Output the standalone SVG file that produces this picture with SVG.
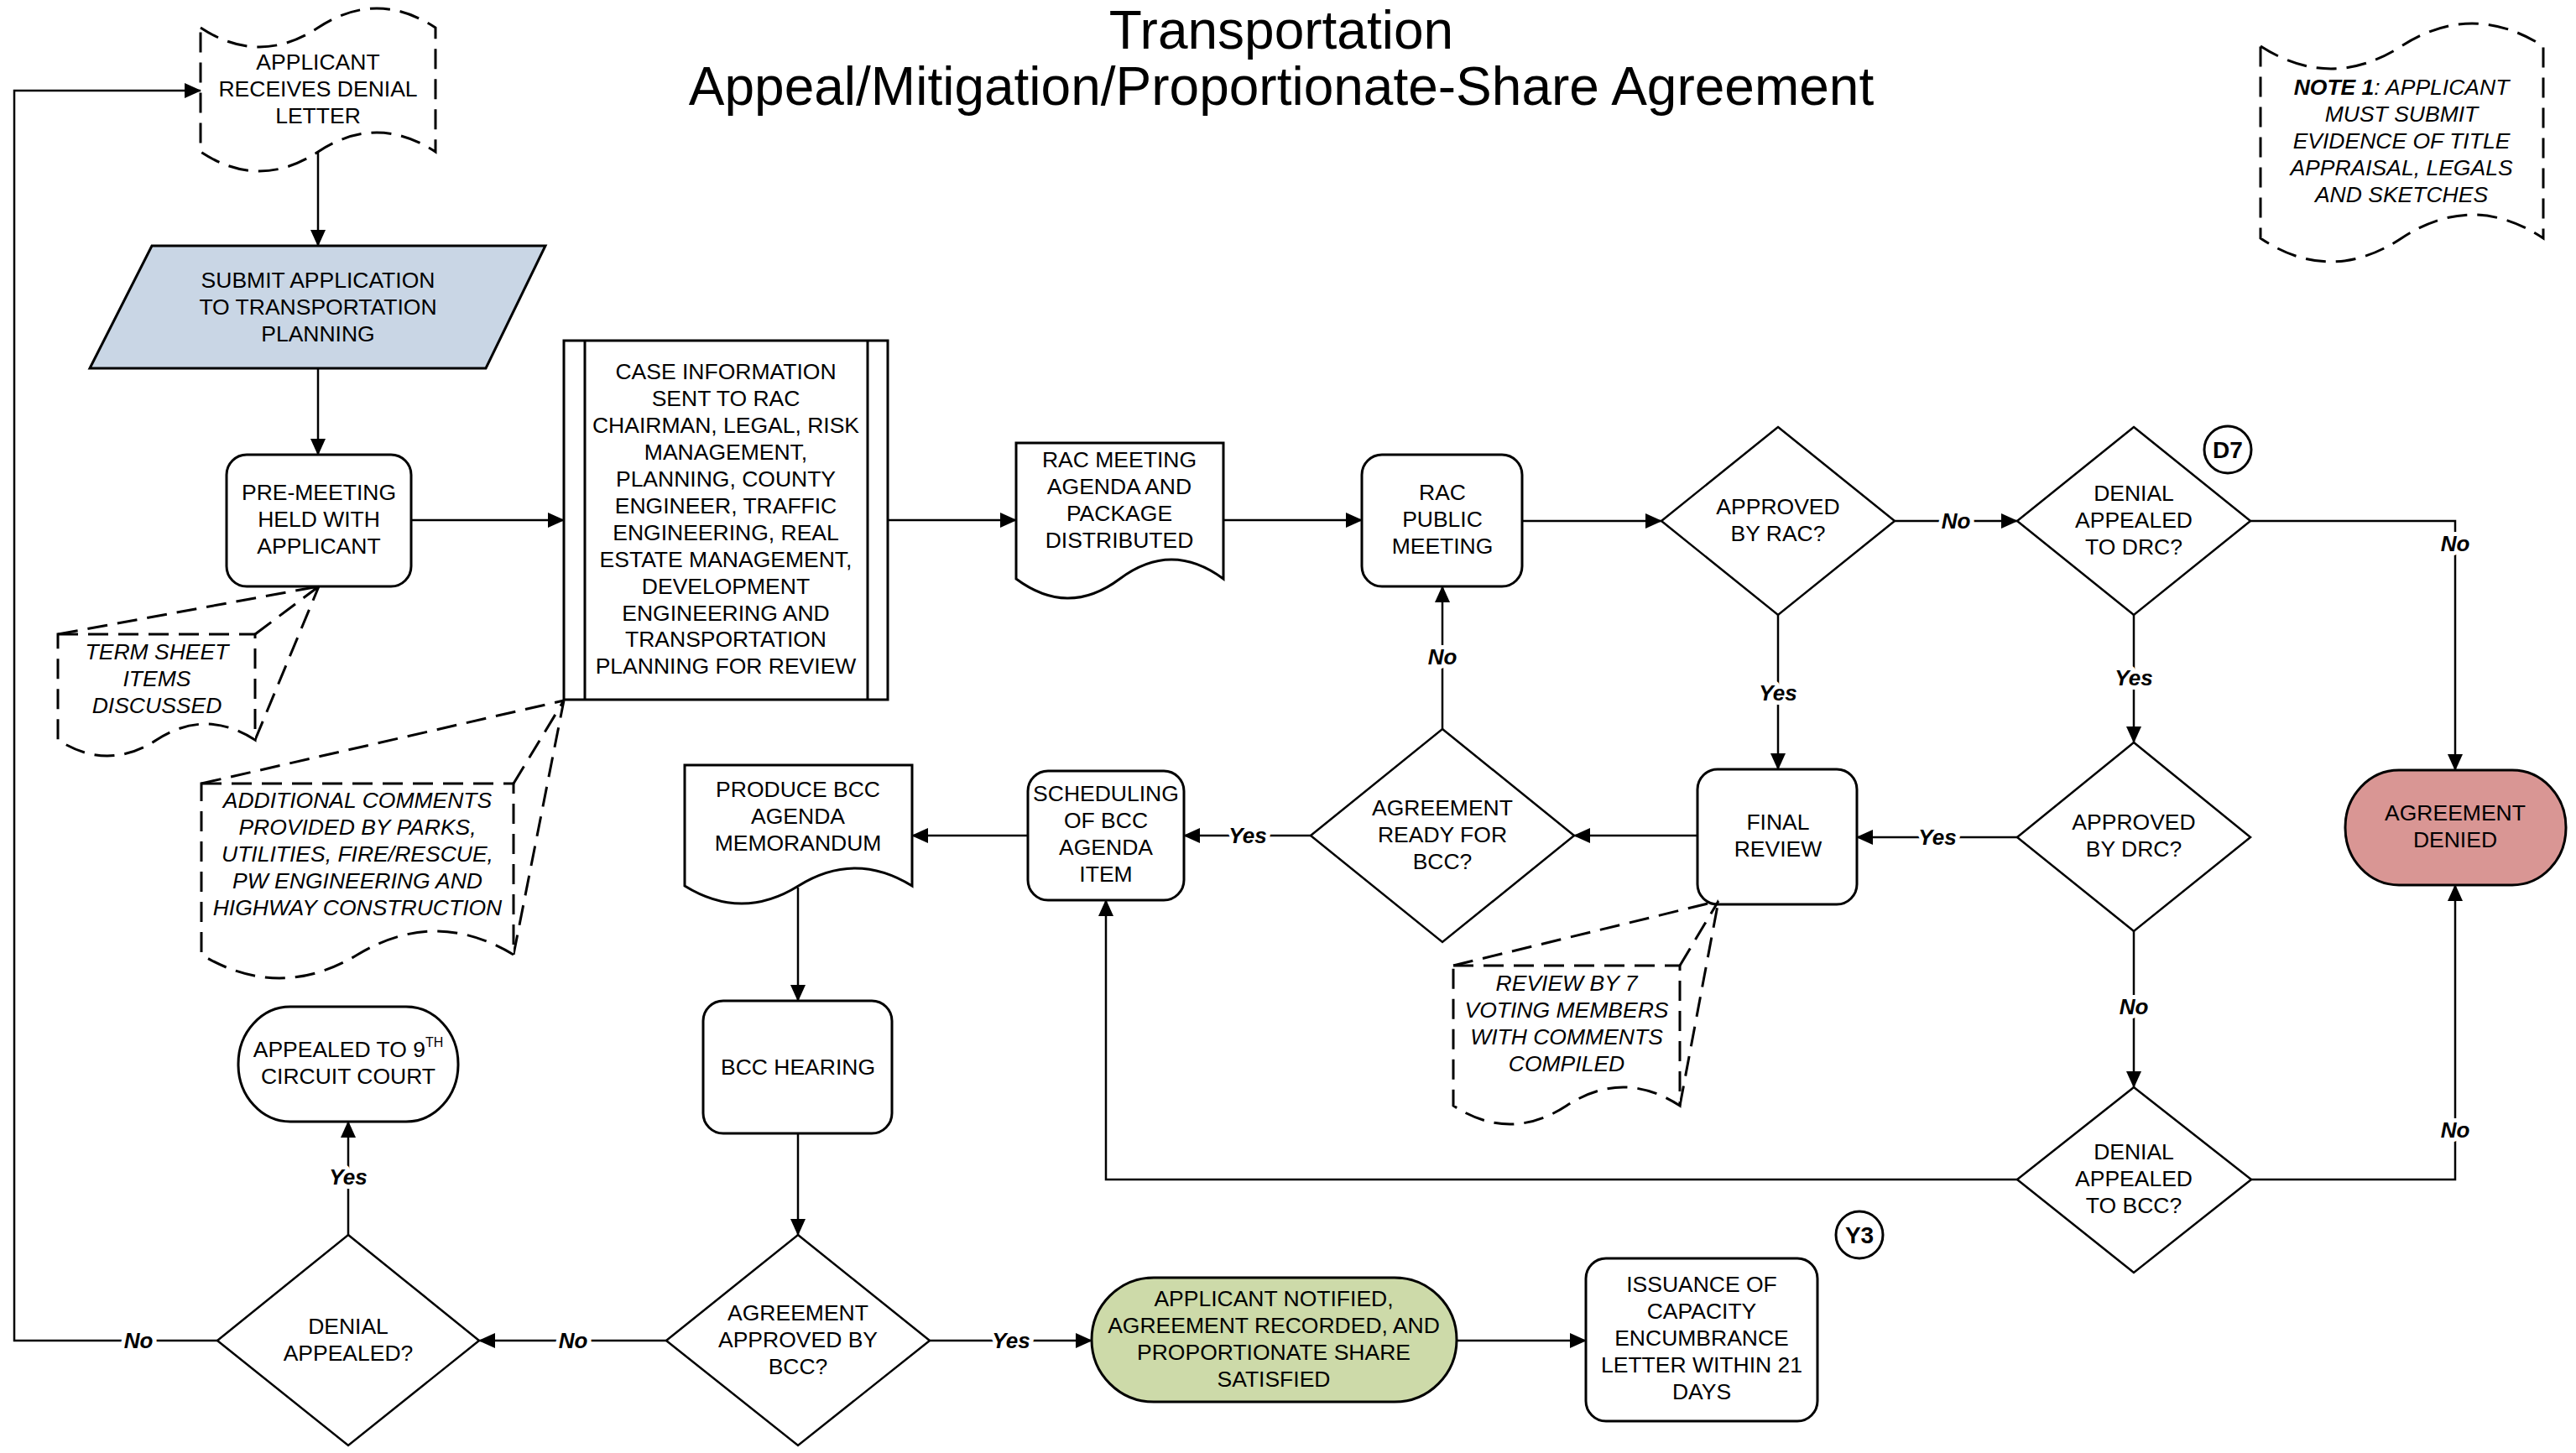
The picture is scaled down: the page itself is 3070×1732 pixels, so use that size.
<svg xmlns="http://www.w3.org/2000/svg" width="3070" height="1732" viewBox="0 0 3070 1732">
<defs>
<marker id="ah" markerWidth="20" markerHeight="18" refX="19" refY="9" orient="auto" markerUnits="userSpaceOnUse"><path d="M0,0 L20,9 L0,18 z" fill="#000"/></marker>
<style>
.s{fill:#fff;stroke:#000;stroke-width:3}
.d{fill:#fff;stroke:#000;stroke-width:2.5}
.dash{fill:#fff;stroke:#000;stroke-width:3;stroke-dasharray:24 12}
.dl{fill:none;stroke:#000;stroke-width:3;stroke-dasharray:24 12}
.c{fill:none;stroke:#000;stroke-width:2.5;marker-end:url(#ah)}
.t{font-family:"Liberation Sans",Arial,sans-serif;font-size:26.5px;text-anchor:middle;fill:#000}
.i{font-style:italic}
.lbl{font-family:"Liberation Sans",Arial,sans-serif;font-size:26px;font-weight:bold;font-style:italic;text-anchor:middle;fill:#000;stroke:#fff;stroke-width:10px;paint-order:stroke;stroke-linejoin:round}
.title{font-family:"Liberation Sans",Arial,sans-serif;font-size:64px;text-anchor:middle;fill:#000}
.tag{font-family:"Liberation Sans",Arial,sans-serif;font-size:28px;font-weight:bold;text-anchor:middle;fill:#000}
</style>
</defs>
<rect width="3070" height="1732" fill="#fff"/>

<g id="title">
<text class="title" x="1527" y="58">Transportation</text>
<text class="title" x="1527" y="125">Appeal/Mitigation/Proportionate-Share Agreement</text>
</g>

<g id="applicant-receives-denial">
<path class="dash" d="M239,33 Q309,79 379,33 T519,33 V181 Q449,135 379,181 T239,181 Z"/>
<text class="t" x="379" y="83">APPLICANT</text>
<text class="t" x="379" y="115">RECEIVES DENIAL</text>
<text class="t" x="379" y="147">LETTER</text>
</g>

<g id="submit-application">
<path d="M181,293 H650 L579,439 H107 Z" fill="#c9d6e5" stroke="#000" stroke-width="3"/>
<text class="t" x="379" y="343">SUBMIT APPLICATION</text>
<text class="t" x="379" y="375">TO TRANSPORTATION</text>
<text class="t" x="379" y="407">PLANNING</text>
</g>

<g id="pre-meeting">
<rect class="s" x="270" y="542" width="220" height="157" rx="24"/>
<text class="t" x="380" y="596">PRE-MEETING</text>
<text class="t" x="380" y="628">HELD WITH</text>
<text class="t" x="380" y="660">APPLICANT</text>
</g>

<g id="term-sheet-note">
<path class="dl" d="M69,756 L380,699 M304,756 L380,699 M304,882 L380,699"/>
<path class="dash" d="M69,756 H304 V882 Q245,844 186.5,882 T69,882 Z"/>
<text class="t i" x="187" y="786">TERM SHEET</text>
<text class="t i" x="187" y="818">ITEMS</text>
<text class="t i" x="187" y="850">DISCUSSED</text>
</g>

<g id="case-information">
<rect class="s" x="672" y="406" width="386" height="428"/>
<line x1="697" y1="406" x2="697" y2="834" stroke="#000" stroke-width="3"/>
<line x1="1034" y1="406" x2="1034" y2="834" stroke="#000" stroke-width="3"/>
<text class="t" x="865" y="452">CASE INFORMATION</text>
<text class="t" x="865" y="484">SENT TO RAC</text>
<text class="t" x="865" y="516">CHAIRMAN, LEGAL, RISK</text>
<text class="t" x="865" y="548">MANAGEMENT,</text>
<text class="t" x="865" y="580">PLANNING, COUNTY</text>
<text class="t" x="865" y="612">ENGINEER, TRAFFIC</text>
<text class="t" x="865" y="644">ENGINEERING, REAL</text>
<text class="t" x="865" y="676">ESTATE MANAGEMENT,</text>
<text class="t" x="865" y="708">DEVELOPMENT</text>
<text class="t" x="865" y="740">ENGINEERING AND</text>
<text class="t" x="865" y="771">TRANSPORTATION</text>
<text class="t" x="865" y="803">PLANNING FOR REVIEW</text>
</g>

<g id="additional-comments-note">
<path class="dl" d="M240,934 L672,835 M612,934 L672,835 M612,1138 L672,835"/>
<path class="dash" d="M240,934 H612 V1138 Q519,1082 426,1138 T240,1138 Z"/>
<text class="t i" x="426" y="963">ADDITIONAL COMMENTS</text>
<text class="t i" x="426" y="995">PROVIDED BY PARKS,</text>
<text class="t i" x="426" y="1027">UTILITIES, FIRE/RESCUE,</text>
<text class="t i" x="426" y="1059">PW ENGINEERING AND</text>
<text class="t i" x="426" y="1091">HIGHWAY CONSTRUCTION</text>
</g>

<g id="rac-meeting-agenda">
<path class="s" d="M1211,528 H1458 V690 Q1396,644 1334.5,690 T1211,690 Z"/>
<text class="t" x="1334" y="557">RAC MEETING</text>
<text class="t" x="1334" y="589">AGENDA AND</text>
<text class="t" x="1334" y="621">PACKAGE</text>
<text class="t" x="1334" y="653">DISTRIBUTED</text>
</g>

<g id="rac-public-meeting">
<rect class="s" x="1623" y="542" width="191" height="157" rx="24"/>
<text class="t" x="1719" y="596">RAC</text>
<text class="t" x="1719" y="628">PUBLIC</text>
<text class="t" x="1719" y="660">MEETING</text>
</g>

<g id="approved-by-rac">
<path class="d" d="M2119,509 L2258,621 L2119,733 L1980,621 Z"/>
<text class="t" x="2119" y="613">APPROVED</text>
<text class="t" x="2119" y="645">BY RAC?</text>
</g>

<g id="denial-appealed-drc">
<path class="d" d="M2543,509 L2682,621 L2543,733 L2404,621 Z"/>
<text class="t" x="2543" y="597">DENIAL</text>
<text class="t" x="2543" y="629">APPEALED</text>
<text class="t" x="2543" y="661">TO DRC?</text>
</g>

<g id="tag-d7">
<circle cx="2655" cy="536" r="28" fill="#fff" stroke="#000" stroke-width="3"/>
<text class="tag" x="2655" y="546">D7</text>
</g>

<g id="note-1">
<path class="dash" d="M2694,55 Q2778,109 2862,55 T3031,55 V284 Q2947,228 2862,284 T2694,284 Z"/>
<text class="t i" x="2862" y="113"><tspan font-weight="bold">NOTE 1</tspan>: APPLICANT</text>
<text class="t i" x="2862" y="145">MUST SUBMIT</text>
<text class="t i" x="2862" y="177">EVIDENCE OF TITLE</text>
<text class="t i" x="2862" y="209">APPRAISAL, LEGALS</text>
<text class="t i" x="2862" y="241">AND SKETCHES</text>
</g>

<g id="final-review">
<rect class="s" x="2023" y="917" width="190" height="161" rx="24"/>
<text class="t" x="2119" y="989">FINAL</text>
<text class="t" x="2119" y="1021">REVIEW</text>
</g>

<g id="review-by-7-note">
<path class="dl" d="M1732,1151 L2048,1074 M2002,1151 L2048,1074 M2002,1318 L2048,1074"/>
<path class="dash" d="M1732,1151 H2002 V1318 Q1934.5,1274 1867,1318 T1732,1318 Z"/>
<text class="t i" x="1867" y="1181">REVIEW BY 7</text>
<text class="t i" x="1867" y="1213">VOTING MEMBERS</text>
<text class="t i" x="1867" y="1245">WITH COMMENTS</text>
<text class="t i" x="1867" y="1277">COMPILED</text>
</g>

<g id="approved-by-drc">
<path class="d" d="M2543,885 L2682,998 L2543,1110 L2404,998 Z"/>
<text class="t" x="2543" y="989">APPROVED</text>
<text class="t" x="2543" y="1021">BY DRC?</text>
</g>

<g id="agreement-denied">
<rect x="2795" y="918" width="263" height="137" rx="64" ry="68" fill="#d99694" stroke="#000" stroke-width="3"/>
<text class="t" x="2926" y="978">AGREEMENT</text>
<text class="t" x="2926" y="1010">DENIED</text>
</g>

<g id="agreement-ready-bcc">
<path class="d" d="M1719,869 L1876,996 L1719,1123 L1562,996 Z"/>
<text class="t" x="1719" y="972">AGREEMENT</text>
<text class="t" x="1719" y="1004">READY FOR</text>
<text class="t" x="1719" y="1036">BCC?</text>
</g>

<g id="scheduling-bcc">
<rect class="s" x="1225" y="919" width="186" height="154" rx="24"/>
<text class="t" x="1318" y="955">SCHEDULING</text>
<text class="t" x="1318" y="987">OF BCC</text>
<text class="t" x="1318" y="1019">AGENDA</text>
<text class="t" x="1318" y="1051">ITEM</text>
</g>

<g id="produce-bcc-memo">
<path class="s" d="M816,912 H1087 V1056 Q1019,1014 951.5,1056 T816,1056 Z"/>
<text class="t" x="951" y="950">PRODUCE BCC</text>
<text class="t" x="951" y="982">AGENDA</text>
<text class="t" x="951" y="1014">MEMORANDUM</text>
</g>

<g id="bcc-hearing">
<rect class="s" x="838" y="1193" width="225" height="158" rx="24"/>
<text class="t" x="951" y="1281">BCC HEARING</text>
</g>

<g id="denial-appealed-bcc">
<path class="d" d="M2543,1296 L2683,1406 L2543,1517 L2404,1406 Z"/>
<text class="t" x="2543" y="1382">DENIAL</text>
<text class="t" x="2543" y="1414">APPEALED</text>
<text class="t" x="2543" y="1446">TO BCC?</text>
</g>

<g id="appealed-9th-circuit">
<rect class="s" x="284" y="1200" width="262" height="137" rx="62" ry="68"/>
<text class="t" x="415" y="1260">APPEALED TO 9<tspan dy="-12" font-size="16">TH</tspan></text>
<text class="t" x="415" y="1292">CIRCUIT COURT</text>
</g>

<g id="agreement-approved-bcc">
<path class="d" d="M951,1472 L1108,1598 L951,1723 L794,1598 Z"/>
<text class="t" x="951" y="1574">AGREEMENT</text>
<text class="t" x="951" y="1606">APPROVED BY</text>
<text class="t" x="951" y="1638">BCC?</text>
</g>

<g id="denial-appealed">
<path class="d" d="M415,1472 L571,1598 L415,1723 L259,1598 Z"/>
<text class="t" x="415" y="1590">DENIAL</text>
<text class="t" x="415" y="1622">APPEALED?</text>
</g>

<g id="applicant-notified">
<rect x="1301" y="1523" width="435" height="148" rx="74" ry="74" fill="#cddaa9" stroke="#000" stroke-width="3"/>
<text class="t" x="1518" y="1557">APPLICANT NOTIFIED,</text>
<text class="t" x="1518" y="1589">AGREEMENT RECORDED, AND</text>
<text class="t" x="1518" y="1621">PROPORTIONATE SHARE</text>
<text class="t" x="1518" y="1653">SATISFIED</text>
</g>

<g id="issuance-letter">
<rect class="s" x="1890" y="1500" width="276" height="194" rx="24"/>
<text class="t" x="2028" y="1540">ISSUANCE OF</text>
<text class="t" x="2028" y="1572">CAPACITY</text>
<text class="t" x="2028" y="1604">ENCUMBRANCE</text>
<text class="t" x="2028" y="1636">LETTER WITHIN 21</text>
<text class="t" x="2028" y="1668">DAYS</text>
</g>

<g id="tag-y3">
<circle cx="2216" cy="1472" r="28" fill="#fff" stroke="#000" stroke-width="3"/>
<text class="tag" x="2216" y="1482">Y3</text>
</g>

<g id="connectors">
<polyline class="c" points="259,1598 17,1598 17,108 239,108"/>
<line class="c" x1="379" y1="181" x2="379" y2="293"/>
<line class="c" x1="379" y1="439" x2="379" y2="542"/>
<line class="c" x1="490" y1="620" x2="672" y2="620"/>
<line class="c" x1="1058" y1="620" x2="1211" y2="620"/>
<line class="c" x1="1458" y1="620" x2="1623" y2="620"/>
<line class="c" x1="1814" y1="621" x2="1980" y2="621"/>
<line class="c" x1="2258" y1="621" x2="2404" y2="621"/>
<polyline class="c" points="2682,621 2926,621 2926,918"/>
<line class="c" x1="2543" y1="733" x2="2543" y2="885"/>
<line class="c" x1="2119" y1="733" x2="2119" y2="917"/>
<line class="c" x1="2404" y1="998" x2="2213" y2="998"/>
<line class="c" x1="2023" y1="996" x2="1876" y2="996"/>
<line class="c" x1="1719" y1="869" x2="1719" y2="699"/>
<line class="c" x1="1562" y1="996" x2="1411" y2="996"/>
<line class="c" x1="1225" y1="996" x2="1087" y2="996"/>
<line class="c" x1="951" y1="1058" x2="951" y2="1193"/>
<line class="c" x1="951" y1="1351" x2="951" y2="1472"/>
<line class="c" x1="794" y1="1598" x2="571" y2="1598"/>
<line class="c" x1="415" y1="1472" x2="415" y2="1337"/>
<line class="c" x1="1108" y1="1598" x2="1301" y2="1598"/>
<line class="c" x1="1736" y1="1598" x2="1890" y2="1598"/>
<line class="c" x1="2543" y1="1110" x2="2543" y2="1296"/>
<polyline class="c" points="2404,1406 1318,1406 1318,1073"/>
<polyline class="c" points="2683,1406 2926,1406 2926,1055"/>
</g>

<g id="connector-labels">
<text class="lbl" x="165" y="1607">No</text>
<text class="lbl" x="2331" y="630">No</text>
<text class="lbl" x="2926" y="657">No</text>
<text class="lbl" x="2543" y="817">Yes</text>
<text class="lbl" x="2119" y="835">Yes</text>
<text class="lbl" x="2309" y="1007">Yes</text>
<text class="lbl" x="1719" y="792">No</text>
<text class="lbl" x="1487" y="1005">Yes</text>
<text class="lbl" x="683" y="1607">No</text>
<text class="lbl" x="415" y="1412">Yes</text>
<text class="lbl" x="1205" y="1607">Yes</text>
<text class="lbl" x="2543" y="1209">No</text>
<text class="lbl" x="2926" y="1356">No</text>
</g>
</svg>
